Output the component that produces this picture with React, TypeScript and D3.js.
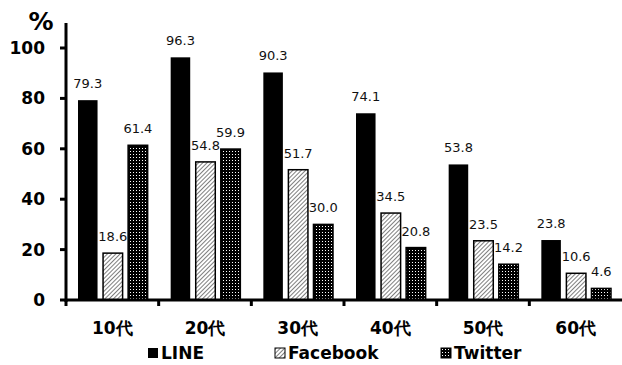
import React from 'react'
import * as d3 from 'd3'

const ages = ['10代', '20代', '30代', '40代', '50代', '60代']
const series = ['LINE', 'Facebook', 'Twitter']
const lineVals = [79.3, 96.3, 90.3, 74.1, 53.8, 23.8]
const facebookVals = [18.6, 54.8, 51.7, 34.5, 23.5, 10.6]
const twitterVals = [61.4, 59.9, 30.0, 20.8, 14.2, 4.6]
const yTicks = [0, 20, 40, 60, 80, 100]

const W = 622
const H = 365
const left = 66
const right = 622
const top = 23
const bottom = 300

const fills = ['#000', 'url(#hatch)', 'url(#dots)']

export default function App() {
  const x = d3.scaleBand<string>().domain(ages).range([left, right]).paddingInner(0).paddingOuter(0)
  const inner = d3.scaleBand<string>().domain(series).range([12, x.bandwidth() - 11]).paddingInner(0.22)
  const y = d3.scaleLinear().domain([0, 100]).range([bottom, 48])
  const data = [lineVals, facebookVals, twitterVals]
  const bold = 'Verdana, "DejaVu Sans", sans-serif'

  return (
    <svg width={W} height={H} style={{ position: 'absolute', left: 0, top: 0 }}>
      <defs>
        <pattern id="hatch" patternUnits="userSpaceOnUse" width="3" height="3" patternTransform="rotate(45)">
          <rect width="3" height="3" fill="#fff" />
          <line x1="0" y1="0" x2="0" y2="3" stroke="#000" strokeWidth="1" />
        </pattern>
        <pattern id="dots" patternUnits="userSpaceOnUse" width="3" height="3">
          <rect width="3" height="3" fill="#000" />
          <rect x="1" y="1" width="1" height="1" fill="#fff" />
        </pattern>
      </defs>
      <rect width={W} height={H} fill="#fff" />

      {/* bars */}
      {ages.map((a, i) => (
        <g key={a}>
          {series.map((s, k) => {
            const v = data[k][i]
            const bx = (x(a) || 0) + (inner(s) || 0)
            const bw = inner.bandwidth()
            return (
              <g key={s}>
                <rect x={bx} y={y(v)} width={bw} height={bottom - y(v)} fill={fills[k]}
                  stroke="#000" strokeWidth={k === 0 ? 0 : 1.5} />
                <text x={bx + bw / 2} y={y(v) - 12} textAnchor="middle" fontSize={13}
                  fontFamily='"DejaVu Sans", Verdana, sans-serif' fill="#111">
                  {v.toFixed(1)}
                </text>
              </g>
            )
          })}
        </g>
      ))}

      {/* y axis */}
      <line x1={left} x2={left} y1={top} y2={bottom + 2} stroke="#000" strokeWidth={3} />
      {yTicks.map(t => (
        <g key={t}>
          <line x1={left - 6} x2={left} y1={y(t)} y2={y(t)} stroke="#000" strokeWidth={3} />
          <text x={45} y={y(t) + 6} textAnchor="end" fontSize={17} fontWeight="bold" fontFamily={bold}>{t}</text>
        </g>
      ))}
      <text x={41} y={30} textAnchor="middle" fontSize={25} fontWeight="bold" fontFamily={bold}>%</text>

      {/* x axis */}
      <line x1={left} x2={right} y1={bottom} y2={bottom} stroke="#000" strokeWidth={3} />
      {ages.map((a, i) => (
        <g key={a}>
          {i < ages.length - 1 && (
            <line x1={(x(a) || 0) + x.bandwidth()} x2={(x(a) || 0) + x.bandwidth()} y1={bottom} y2={bottom + 6} stroke="#000" strokeWidth={3} />
          )}
          <text x={(x(a) || 0) + x.bandwidth() / 2} y={334} textAnchor="middle" fontSize={17} fontWeight="bold" fontFamily={bold}>{a}</text>
        </g>
      ))}
      <line x1={left} x2={left} y1={bottom} y2={bottom + 6} stroke="#000" strokeWidth={3} />

      {/* legend */}
      {series.map((s, k) => {
        const lx = [148, 275, 441][k]
        return (
          <g key={s}>
            <rect x={lx} y={348} width={10} height={10} fill={fills[k]} stroke="#000" strokeWidth={k === 0 ? 0 : 1} />
            <text x={lx + 13} y={359} fontSize={17} fontWeight="bold" fontFamily={bold}>{s}</text>
          </g>
        )
      })}
    </svg>
  )
}
